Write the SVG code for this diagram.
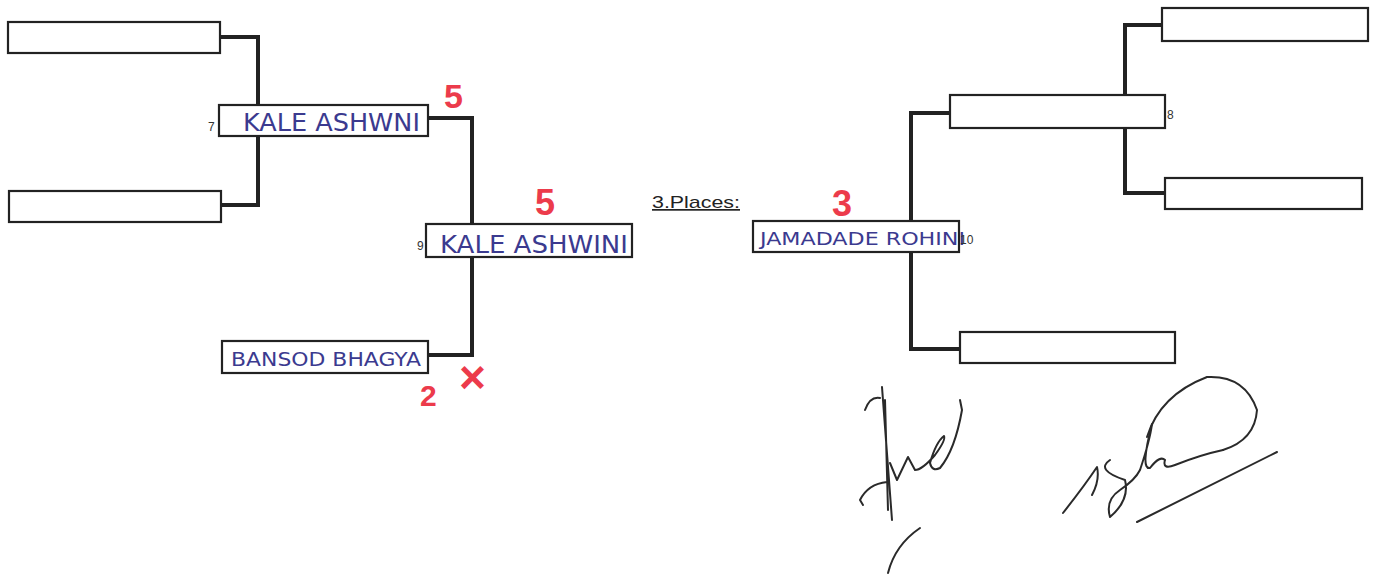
<svg xmlns="http://www.w3.org/2000/svg" width="1376" height="575" viewBox="0 0 1376 575">
<style>
.box{fill:#fff;stroke:#222;stroke-width:2.2}
.con{fill:none;stroke:#222;stroke-width:4;stroke-linejoin:miter}
.num{font-family:"Liberation Sans",Arial,sans-serif;font-size:12px;fill:#333}
.hand{font-family:"DejaVu Sans",sans-serif;fill:#3b3a8f;font-weight:normal}
.red{font-family:"Liberation Sans",Arial,sans-serif;font-weight:bold;fill:#ec3b4b}
.sig{fill:none;stroke:#2a2a2a;stroke-width:2;stroke-linecap:round;stroke-linejoin:round}
</style>
<rect width="1376" height="575" fill="#fff"/>
<g id="connectors">
<path class="con" d="M220,37 H258 V205 H221"/>
<path class="con" d="M428,118 H472 V355 H428"/>
<path class="con" d="M950,113 H911 V349 H960"/>
<path class="con" d="M1162,25 H1125 V193 H1165"/>
</g>
<g id="node-l1"><rect class="box" x="8" y="22" width="212" height="31"/></g>
<g id="node-l2"><rect class="box" x="9" y="191" width="212" height="31"/></g>
<g id="node-7"><rect class="box" x="219" y="105" width="209" height="31"/>
<text class="num" x="208" y="131">7</text>
<text class="hand" x="243" y="131" font-size="24" textLength="177" lengthAdjust="spacingAndGlyphs">KALE  ASHWNI</text></g>
<g id="node-9"><rect class="box" x="426" y="224" width="206" height="33"/>
<text class="num" x="417" y="250">9</text>
<text class="hand" x="440" y="253" font-size="24" textLength="188" lengthAdjust="spacingAndGlyphs">KALE  ASHWINI</text></g>
<g id="node-bansod"><rect class="box" x="222" y="341" width="206" height="32"/>
<text class="hand" x="231" y="366" font-size="19" textLength="190" lengthAdjust="spacingAndGlyphs">BANSOD BHAGYA</text></g>
<g id="node-places"><text x="652" y="208" font-family="Liberation Sans,Arial,sans-serif" font-size="17" fill="#222" text-decoration="underline" textLength="88" lengthAdjust="spacingAndGlyphs">3.Places:</text></g>
<g id="node-10"><rect class="box" x="753" y="221" width="206" height="31"/>
<text class="hand" x="760" y="245" font-size="18" textLength="205" lengthAdjust="spacingAndGlyphs">JAMADADE ROHINI</text>
<text class="num" x="960" y="244">10</text></g>
<g id="node-8"><rect class="box" x="950" y="95" width="215" height="33"/>
<text class="num" x="1167" y="119">8</text></g>
<g id="node-r1"><rect class="box" x="1162" y="8" width="206" height="33"/></g>
<g id="node-r2"><rect class="box" x="1165" y="178" width="197" height="31"/></g>
<g id="node-r3"><rect class="box" x="960" y="332" width="215" height="31"/></g>
<g id="scores">
<text class="red" x="444" y="108" font-size="34">5</text>
<text class="red" x="535" y="215" font-size="36">5</text>
<text class="red" x="832" y="216" font-size="36">3</text>
<text class="red" x="420" y="406" font-size="30">2</text>
<text class="red" x="459" y="393" font-size="46">×</text>
</g>
<g id="signatures">
<path class="sig" d="M865,410 Q870,396 880,398 M882,387 L892,520 M885,400 L888,510 M887,482 Q868,484 860,500 L863,505"/>
<path class="sig" d="M890,463 L897,480 L908,457 L915,470 Q922,470 935,455 Q946,440 944,436 Q936,442 930,463 Q932,472 940,468 Q955,450 962,410 L960,400"/>
<path class="sig" d="M920,528 Q895,545 888,573"/>
<path class="sig" stroke-width="1.5" d="M1147,437 Q1160,395 1207,377 Q1245,375 1257,410 Q1255,440 1223,450"/>
<path class="sig" d="M1063,513 Q1085,485 1097,467 Q1100,480 1092,495 M1110,460 Q1095,470 1125,480 Q1130,500 1110,517 Q1105,500 1120,490 Q1135,480 1140,470 Q1150,440 1152,424 Q1140,470 1150,468 Q1160,455 1165,460 Q1162,470 1175,465 Q1200,455 1223,450"/>
<path class="sig" stroke-width="1.5" stroke="#555" d="M1137,522 L1277,452"/>
</g>
</svg>
